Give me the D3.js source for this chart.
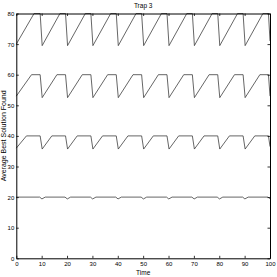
<!DOCTYPE html>
<html>
<head>
<meta charset="utf-8">
<script src="https://cdn.jsdelivr.net/npm/d3@7"></script>
<style>
  body { margin: 0; background: #fff; }
  svg { display: block; color: #000; }
  text { font-family: "Liberation Sans", Arial, sans-serif; fill: #000; }
</style>
</head>
<body>
<svg id="chart"></svg>
<script>
// Tick values
const xTicks = [0, 10, 20, 30, 40, 50, 60, 70, 80, 90, 100];
const yTicks = [0, 10, 20, 30, 40, 50, 60, 70, 80];

// Corner points [time, value]
const trap80 = [[0,70],[7,80],[9.4,80],[10.2,69.5],[17.2,80],[19.4,80],[20.2,69.5],[27.2,80],[29.4,80],[30.2,69.5],
  [37.2,80],[39.4,80],[40.2,69.5],[47.2,80],[49.4,80],[50.2,69.5],[57.2,80],[59.4,80],[60.2,69.5],[67.2,80],[69.4,80],
  [70.2,69.5],[77.2,80],[79.4,80],[80.2,69.5],[87.2,80],[89.4,80],[90.2,69.5],[97.2,80],[99.4,80],[100,71]];
const trap60 = [[0,53],[6,60],[9.4,60],[10.2,52.5],[16,60],[19.4,60],[20.2,52.5],[26,60],[29.4,60],[30.2,52.5],
  [36,60],[39.4,60],[40.2,52.5],[46,60],[49.4,60],[50.2,52.5],[56,60],[59.4,60],[60.2,52.5],[66,60],[69.4,60],
  [70.2,52.5],[76,60],[79.4,60],[80.2,52.5],[86,60],[89.4,60],[90.2,52.5],[96,60],[99.4,60],[100,53]];
const trap40 = [[0,36],[4,40],[9.4,40],[10.2,35.7],[14,40],[19.4,40],[20.2,35.7],[24,40],[29.4,40],[30.2,35.7],
  [34,40],[39.4,40],[40.2,35.7],[44,40],[49.4,40],[50.2,35.7],[54,40],[59.4,40],[60.2,35.7],[64,40],[69.4,40],
  [70.2,35.7],[74,40],[79.4,40],[80.2,35.7],[84,40],[89.4,40],[90.2,35.7],[94,40],[99.4,40],[100,36.5]];
const trap20 = [[0,20],[9.2,20],[10.1,19.4],[11.4,20],[19.2,20],[20.1,19.4],[21.4,20],[29.2,20],[30.1,19.4],[31.4,20],
  [39.2,20],[40.1,19.4],[41.4,20],[49.2,20],[50.1,19.4],[51.4,20],[59.2,20],[60.1,19.4],[61.4,20],[69.2,20],[70.1,19.4],
  [71.4,20],[79.2,20],[80.1,19.4],[81.4,20],[89.2,20],[90.1,19.4],[91.4,20],[99.2,20],[100,19.5]];

const width = 277;
const height = 277;
const margin = { top: 13.5, right: 7, bottom: 18.7, left: 16.3 };

const svg = d3.select('#chart')
  .attr('width', width)
  .attr('height', height);

const x = d3.scaleLinear()
  .domain([0, 100])
  .range([margin.left, width - margin.right]);

const y = d3.scaleLinear()
  .domain([0, 80])
  .range([height - margin.bottom, margin.top]);

// Series lines
const line = d3.line()
  .x(d => x(d[0]))
  .y(d => y(d[1]));

[trap80, trap60, trap40, trap20].forEach(s => {
  svg.append('path')
    .datum(s)
    .attr('fill', 'none')
    .attr('stroke', '#333')
    .attr('stroke-width', 0.75)
    .attr('d', line);
});

// Axes, MATLAB style: ticks inward on all four sides
const tickLen = 2.5;

svg.append('g')
  .attr('transform', `translate(0,${y(0)})`)
  .call(d3.axisBottom(x).tickValues(xTicks).tickSizeInner(-tickLen).tickSizeOuter(0).tickPadding(3.5))
  .call(g => g.selectAll('text').attr('font-size', 6));

svg.append('g')
  .attr('transform', `translate(0,${y(80)})`)
  .call(d3.axisTop(x).tickValues(xTicks).tickSizeInner(-tickLen).tickSizeOuter(0).tickFormat(''));

svg.append('g')
  .attr('transform', `translate(${x(0)},0)`)
  .call(d3.axisLeft(y).tickValues(yTicks).tickSizeInner(-tickLen).tickSizeOuter(0).tickPadding(2))
  .call(g => g.selectAll('text').attr('font-size', 6));

svg.append('g')
  .attr('transform', `translate(${x(100)},0)`)
  .call(d3.axisRight(y).tickValues(yTicks).tickSizeInner(-tickLen).tickSizeOuter(0).tickFormat(''));

svg.selectAll('.domain').attr('stroke', '#000').attr('stroke-width', 1);
svg.selectAll('.tick line').attr('stroke', '#000').attr('stroke-width', 0.8);
svg.selectAll('.tick text').attr('fill', '#000');

// Title and axis labels
svg.append('text')
  .attr('x', (x(0) + x(100)) / 2)
  .attr('y', 8)
  .attr('text-anchor', 'middle')
  .attr('font-size', 6.5)
  .text('Trap 3');

svg.append('text')
  .attr('x', (x(0) + x(100)) / 2)
  .attr('y', 275)
  .attr('text-anchor', 'middle')
  .attr('font-size', 6.5)
  .text('Time');

svg.append('text')
  .attr('transform', `translate(6,${(y(0) + y(80)) / 2}) rotate(-90)`)
  .attr('text-anchor', 'middle')
  .attr('font-size', 7)
  .text('Average Best Solution Found');
</script>
</body>
</html>
